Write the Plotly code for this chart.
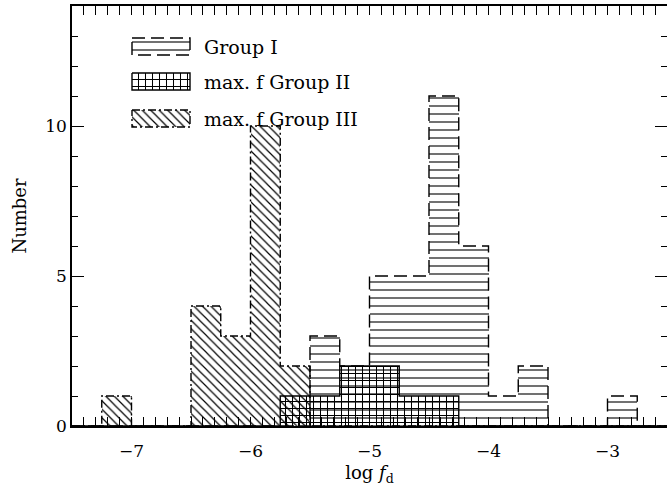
import plotly.graph_objects as go

# Histogram bins in log f_d (bin width 0.25)
bin_left = [-7.5, -7.25, -7.0, -6.75, -6.5, -6.25, -6.0, -5.75, -5.5, -5.25,
            -5.0, -4.75, -4.5, -4.25, -4.0, -3.75, -3.5, -3.25, -3.0, -2.75]
bin_width = 0.25

# Counts per bin
group1 = [0, 0, 0, 0, 0, 0, 0, 0, 3, 2, 5, 5, 11, 6, 1, 2, 0, 0, 1, 0]
group2 = [0, 0, 0, 0, 0, 0, 0, 1, 1, 2, 2, 1, 1, 0, 0, 0, 0, 0, 0, 0]
group3 = [0, 1, 0, 0, 4, 3, 10, 2, 0, 0, 0, 0, 0, 0, 0, 0, 0, 0, 0, 0]

legend_labels = ["Group I", "max. f Group II", "max. f Group III"]

FONT = "DejaVu Serif"
W, H = 667, 487
L, R, T, B = 72, 0, 6, 61

styles = [
    dict(counts=group1, shape="-", size=8, sol=0.14, dash="13px,6px"),
    dict(counts=group2, shape="+", size=7, sol=0.27, dash="solid"),
    dict(counts=group3, shape="\\", size=6, sol=0.2, dash="8px,3px,2px,3px"),
]

centers = [x + bin_width / 2 for x in bin_left]
edges = bin_left + [bin_left[-1] + bin_width]

fig = go.Figure()

for st in styles:
    # hatched fill of each bin
    fig.add_trace(go.Bar(
        x=centers, y=st["counts"], width=bin_width,
        marker=dict(color="rgba(0,0,0,0)", line=dict(width=0),
                    pattern=dict(shape=st["shape"], size=st["size"],
                                 solidity=st["sol"], fgcolor="black",
                                 bgcolor="rgba(0,0,0,0)", fillmode="replace")),
        showlegend=False, hoverinfo="skip",
    ))
    # histogram outline
    fig.add_trace(go.Scatter(
        x=edges, y=st["counts"] + [st["counts"][-1]], mode="lines",
        line=dict(shape="hv", color="black", width=1.4, dash=st["dash"]),
        showlegend=False, hoverinfo="skip",
    ))

# Legend key drawn on an overlay axis measured in pixels from the plot's top-left
pw = W - L - R
ph = H - T - B
key_x0, key_x1 = 60, 118
key_rows = [32, 67, 104]
key_h = 17
for st, y0, label in zip(styles, key_rows, legend_labels):
    fig.add_trace(go.Scatter(
        x=[key_x0, key_x1, key_x1, key_x0, key_x0],
        y=[y0, y0, y0 + key_h, y0 + key_h, y0],
        mode="lines", fill="toself", fillcolor="rgba(0,0,0,0)",
        fillpattern=dict(shape=st["shape"], size=st["size"], solidity=st["sol"],
                         fgcolor="black", bgcolor="rgba(0,0,0,0)", fillmode="replace"),
        line=dict(color="black", width=1.4, dash=st["dash"]),
        xaxis="x2", yaxis="y2", showlegend=False, hoverinfo="skip",
    ))
    fig.add_annotation(
        x=key_x1 + 12, y=y0 + key_h / 2, xref="x2", yref="y2",
        text=label, showarrow=False, xanchor="left", yanchor="middle",
        font=dict(family=FONT, size=19, color="black"),
    )

tick_font = dict(family=FONT, size=17, color="black")

fig.update_layout(
    width=W, height=H,
    margin=dict(l=L, r=R, t=T, b=B, pad=0),
    paper_bgcolor="white", plot_bgcolor="white",
    barmode="overlay", bargap=0,
    showlegend=False,
    xaxis=dict(
        range=[-7.5, -2.5], dtick=1, tick0=-7, ticklen=9,
        showline=True, linecolor="black", linewidth=1.5, mirror="allticks",
        ticks="inside", tickcolor="black", tickwidth=1, showgrid=False, zeroline=False,
        tickfont=tick_font, ticklabelstandoff=9,
        minor=dict(dtick=0.1, ticklen=4, ticks="inside", tickcolor="black", tickwidth=1),
        title=dict(text="log <i>f</i><sub>d</sub>", standoff=6,
                   font=dict(family=FONT, size=18, color="black")),
    ),
    yaxis=dict(
        range=[0, 14], dtick=5, tick0=0, ticklen=12,
        showline=True, linecolor="black", linewidth=1.5, mirror=False,
        ticks="inside", tickcolor="black", tickwidth=1, showgrid=False, zeroline=False,
        tickfont=tick_font,
        minor=dict(dtick=1, ticklen=6, ticks="inside", tickcolor="black", tickwidth=1),
        title=dict(text="Number", standoff=14,
                   font=dict(family=FONT, size=18, color="black")),
    ),
    # right-hand tick marks along the frame edge
    yaxis3=dict(
        range=[0, 14], dtick=5, tick0=0, ticklen=12, overlaying="y", side="right",
        showline=False, ticks="inside", tickcolor="black", tickwidth=1,
        showticklabels=False, showgrid=False, zeroline=False, fixedrange=True,
        minor=dict(dtick=1, ticklen=6, ticks="inside", tickcolor="black", tickwidth=1),
    ),
    xaxis2=dict(range=[0, pw], overlaying="x", visible=False, fixedrange=True),
    yaxis2=dict(range=[ph, 0], overlaying="y", visible=False, fixedrange=True),
)

# empty trace so the right-hand tick axis is drawn
fig.add_trace(go.Scatter(x=[None], y=[None], yaxis="y3", showlegend=False,
                         hoverinfo="skip"))

fig.write_html("out.html")
